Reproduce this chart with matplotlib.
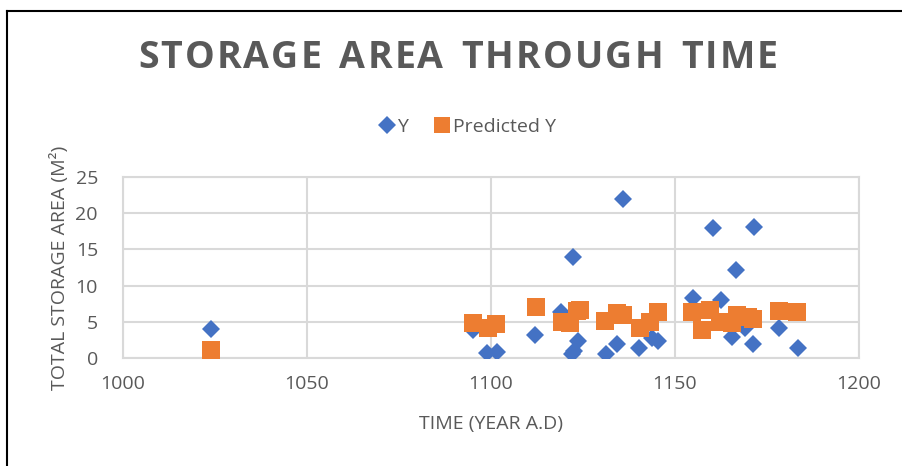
import matplotlib
matplotlib.use("Agg")
import matplotlib.pyplot as plt
from matplotlib.lines import Line2D

# Observed Y
y_year = [1024, 1095, 1099, 1101.5, 1112, 1119, 1122.3, 1122, 1122.5, 1123.6, 1136,
          1131.3, 1134.2, 1140.2, 1143.8, 1145.4,
          1154.9, 1157.6, 1160.3, 1162.5, 1165.5, 1166.6, 1169, 1171.2, 1171.5, 1178.3, 1183.4]
y_area = [4.0, 3.9, 0.7, 0.8, 3.2, 6.3, 14.0, 0.5, 0.9, 2.3, 22.0,
          0.6, 2.0, 1.4, 2.8, 2.3,
          8.3, 3.9, 18.0, 8.0, 2.9, 12.2, 4.2, 2.0, 18.1, 4.1, 1.4]

# Predicted Y
p_year = [1024, 1095.1, 1099.2, 1101.4, 1112.2, 1119.3, 1121.5, 1123.4, 1124.2,
          1131.0, 1134.2, 1135.9, 1140.5, 1143.2, 1145.4,
          1154.6, 1157.3, 1159.5, 1162.2, 1165.5, 1166.8, 1169.8, 1171.2, 1178.3, 1183.2]
p_area = [1.1, 4.8, 4.1, 4.7, 7.0, 5.0, 4.9, 6.5, 6.6,
          5.1, 6.2, 6.0, 4.1, 5.0, 6.4,
          6.4, 3.9, 6.6, 5.0, 4.8, 5.9, 5.7, 5.4, 6.5, 6.4]

x_ticks = [1000, 1050, 1100, 1150, 1200]
y_ticks = [0, 5, 10, 15, 20, 25]
title = "STORAGE AREA THROUGH TIME"

BLUE = "#4472C4"
ORANGE = "#ED7D31"
GRAY = "#595959"
GRID = "#D9D9D9"
FONT = ["Open Sans", "DejaVu Sans"]
FS = 14

fig = plt.figure(figsize=(9.02, 4.66), dpi=100)
ax = fig.add_axes([123/902, 1-358/466, (859-123)/902, (358-177)/466])

ax.plot(y_year, y_area, linestyle="none", marker="D", markersize=9.5,
        color=BLUE, markeredgewidth=0, zorder=3)
ax.plot(p_year, p_area, linestyle="none", marker="s", markersize=12.5,
        color=ORANGE, markeredgewidth=0, zorder=4)

ax.set_xlim(1000, 1200)
ax.set_ylim(0, 25)
ax.set_xticks(x_ticks)
ax.set_yticks(y_ticks)
ax.grid(True, color=GRID, linewidth=1.5, zorder=0)
ax.set_axisbelow(True)
for s in ax.spines.values():
    s.set_color(GRID)
    s.set_linewidth(1.5)
ax.tick_params(axis="y", length=0, labelsize=FS, labelcolor=GRAY, pad=18)
ax.tick_params(axis="x", length=0, labelsize=FS, labelcolor=GRAY, pad=12)
for lab in ax.get_xticklabels() + ax.get_yticklabels():
    lab.set_family(FONT)

ax.set_xlabel("TIME (YEAR A.D)", fontsize=FS, color=GRAY, family=FONT, labelpad=16)
ax.set_ylabel("TOTAL STORAGE AREA (M²)", fontsize=FS, color=GRAY, family=FONT, labelpad=5)

# Title with letter spacing
renderer = fig.canvas.get_renderer()
tfs = 27
widths = []
for ch in title:
    t = fig.text(0, 0, ch if ch != " " else "I", fontsize=tfs, fontweight="bold", family=FONT)
    w = t.get_window_extent(renderer).width
    if ch == " ":
        w *= 1.1
    widths.append(w)
    t.remove()
target_left, target_right = 138, 778
extra = (target_right - target_left - sum(widths)) / (len(title) - 1)
xpos = target_left
for ch, w in zip(title, widths):
    if ch != " ":
        fig.text(xpos / 902, 1 - 58 / 466, ch, ha="left", va="center", fontsize=tfs,
                 fontweight="bold", color=GRAY, family=FONT)
    xpos += w + extra

handles = [Line2D([], [], linestyle="none", marker="D", markersize=9, color=BLUE, markeredgewidth=0),
           Line2D([], [], linestyle="none", marker="s", markersize=12, color=ORANGE, markeredgewidth=0)]
fig.legend(handles, ["Y", "Predicted Y"], loc="center", bbox_to_anchor=(468/902, 1-127/466),
           ncol=2, frameon=False, handlelength=0.7, handletextpad=0.2, columnspacing=1.4,
           prop={"family": FONT, "size": FS}, labelcolor=GRAY)

# outer border (left and top edges visible)
fig.add_artist(Line2D([7/902, 7/902], [0, 1-11/466], transform=fig.transFigure, color="black", linewidth=1.5))
fig.add_artist(Line2D([7/902, 1], [1-11/466, 1-11/466], transform=fig.transFigure, color="black", linewidth=1.5))

fig.savefig("out.png", dpi=100)
